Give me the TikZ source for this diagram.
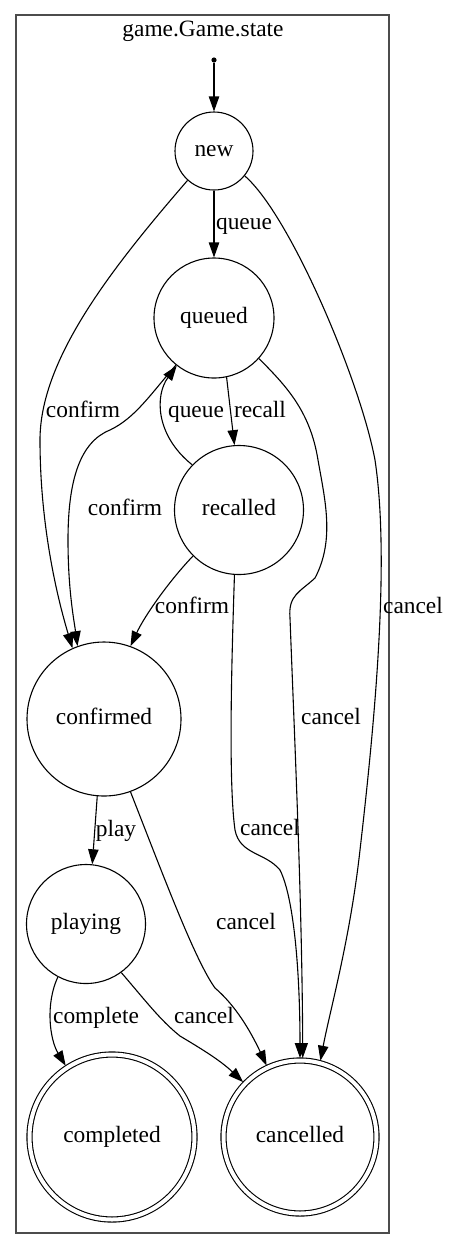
\documentclass[tikz,border=0pt]{standalone}
\usepackage{fontspec}
\setmainfont{Liberation Serif}
\usetikzlibrary{arrows.meta}
\begin{document}
\begin{tikzpicture}[
    x=0.5pt, y=-0.5pt,
    every node/.style={font=\fontsize{11.7}{14}\selectfont,
                       text height=8pt, text depth=2.5pt},
    state/.style={circle, draw, line width=0.55pt, inner sep=0pt},
    final/.style={state, double, double distance=2pt, outer sep=1.25pt},
    lbl/.style={inner sep=0pt},
    arr/.style={-{Triangle[length=7.5pt,width=5.2pt]}, line width=0.55pt},
    seg/.style={line width=0.55pt}
  ]
    \useasboundingbox (0,0) rectangle (451,1250);
    \draw[line width=0.7pt, black!70] (16,15) rectangle (389,1233);
    \node[lbl] (title) at (203,31) {game.Game.state};

    \node[circle, fill, inner sep=0pt, minimum size=2.6pt,
          text height=, text depth=] (init) at (214,60) {};
    \node[state, minimum size=39pt]   (new)       at (214,151)  {new};
    \node[state, minimum size=60pt]   (queued)    at (214,318)  {queued};
    \node[state, minimum size=64.5pt] (recalled)  at (239,510)  {recalled};
    \node[state, minimum size=77pt]   (confirmed) at (104,719)  {confirmed};
    \node[state, minimum size=59.5pt] (playing)   at (86,924)   {playing};
    \node[final, minimum size=82.5pt] (completed) at (112,1137) {completed};
    \node[final, minimum size=76.5pt] (cancelled) at (300,1137) {cancelled};

    \draw[arr] (init) -- (new);
    \draw[arr] (new) -- (queued);
    \draw[arr] (new.228) .. controls (110,270) and (40,360) .. (40,440)
               .. controls (40,520) and (55,590) .. (confirmed.114);
    \draw[arr] (new.321) .. controls (290,215) and (360,380) .. (375,460)
               .. controls (390,560) and (375,720) .. (360,850)
               .. controls (350,940) and (330,1010) .. (cancelled.75);
    \draw[arr] (queued.282) -- (recalled.94);
    \draw[arr] (recalled.136) .. controls (155,435) and (155,395) .. (queued.232);
    \draw[arr] (queued.231) .. controls (150,395) and (135,418) .. (110,430)
               .. controls (80,442) and (68,480) .. (68,540)
               .. controls (68,590) and (74,620) .. (confirmed.110);
    \draw[arr] (recalled.225) .. controls (170,580) and (145,615) .. (confirmed.70);
    \draw[arr] (recalled.266) .. controls (232,650) and (228,780) .. (235,830)
               .. controls (240,855) and (265,852) .. (280,870)
               .. controls (295,900) and (300,980) .. (cancelled.90);
    \draw[arr] (queued.318) .. controls (285,385) and (310,410) .. (318,460)
               .. controls (325,500) and (335,540) .. (315,578)
               .. controls (300,592) and (288,595) .. (290,618)
               .. controls (295,750) and (302,900) .. (cancelled.88);
    \draw[arr] (confirmed.265) -- (playing.84);
    \draw[arr] (confirmed.290) .. controls (165,880) and (195,960) .. (215,988)
               .. controls (235,1005) and (250,1030) .. (cancelled.115);
    \draw[arr] (playing.242) .. controls (45,1005) and (50,1040) .. (completed.123);
    \draw[arr] (playing.306) .. controls (145,1000) and (160,1020) .. (180,1036)
               .. controls (200,1048) and (220,1060) .. (cancelled.136);

    % transition labels
    \node[lbl] (lqueue)    at (244,224)  {queue};
    \node[lbl] (lconfirm)  at (83,412)   {confirm};
    \node[lbl] (lcancel)   at (413,608)  {cancel};
    \node[lbl] (lrecall)   at (260,412)  {recall};
    \node[lbl] (lrequeue)  at (196,412)  {queue};
    \node[lbl] (lqconfirm) at (125,510)  {confirm};
    \node[lbl] (lrconfirm) at (192,608)  {confirm};
    \node[lbl] (lrcancel)  at (270,830)  {cancel};
    \node[lbl] (lqcancel)  at (331,719)  {cancel};
    \node[lbl] (lplay)     at (116,831)  {play};
    \node[lbl] (lccancel)  at (246,924)  {cancel};
    \node[lbl] (lcomplete) at (96,1018)  {complete};
    \node[lbl] (lpcancel)  at (204,1018) {cancel};
  \end{tikzpicture}
\end{document}
